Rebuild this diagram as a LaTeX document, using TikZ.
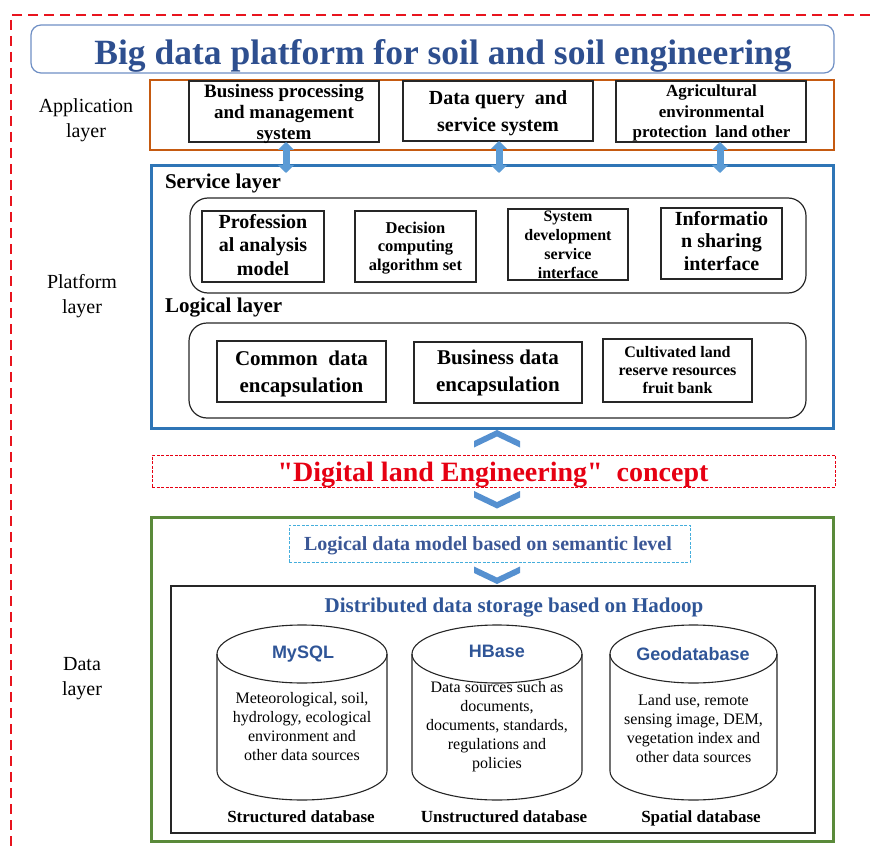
\documentclass[tikz,border=0pt]{standalone}
\usepackage{fontspec}
\setmainfont{Liberation Serif}[Ligatures=TeXOff]
\newfontfamily\dbsans{Liberation Sans}
\usetikzlibrary{arrows.meta}
\definecolor{titleblue}{HTML}{2E4F8F}
\definecolor{titleframe}{HTML}{6F8FC4}
\definecolor{apporange}{HTML}{C55A11}
\definecolor{platblue}{HTML}{2E75B6}
\definecolor{arrowblue}{HTML}{5B9BD5}
\definecolor{chevblue}{HTML}{5590D0}
\definecolor{outerred}{HTML}{E8141E}
\definecolor{conceptred}{HTML}{E60012}
\definecolor{datagreen}{HTML}{5A8A3A}
\definecolor{semblue}{HTML}{45AEDC}
\definecolor{semtext}{HTML}{3B5796}
\definecolor{hadooptext}{HTML}{2F5597}
\definecolor{boxblack}{HTML}{262626}
\newcommand{\fsz}[2]{\fontsize{#1}{#2}\selectfont}
\begin{document}
\begin{tikzpicture}[x=1pt,y=-1pt,
  every node/.style={inner sep=0pt,outer sep=0pt},
  bx/.style={draw=boxblack,line width=1.3pt},
  rbx/.style={draw=boxblack,line width=1.2pt,rounded corners=18pt},
  dbl/.style={draw=arrowblue,line width=7pt,{Triangle[width=16pt,length=8pt]}-{Triangle[width=16pt,length=8pt]}},
  chev/.style={fill=chevblue},
  sidelbl/.style={font=\fsz{20}{24.5},align=center},
  cyl/.style={draw=boxblack,line width=1.1pt},
  bodytxt/.style={font=\fsz{16}{19},align=center},
  dbname/.style={font=\dbsans\bfseries\fsz{18}{20},text=hadooptext,anchor=base},
  dbcap/.style={font=\bfseries\fsz{17}{20},anchor=base},
]
\useasboundingbox (0,0) rectangle (870,848);
% outer dashed frame
\coordinate (oc) at (11,15);
\draw[outerred,line width=2pt,dash pattern=on 10pt off 6pt] (870,15) -- (oc) -- (11,848);
% title
\node[draw=titleframe,line width=1.2pt,rounded corners=10pt,minimum width=803pt,minimum height=48pt] (titlebox) at (432.5,49) {};
\node[anchor=base,font=\bfseries\fsz{35.5}{40},text=titleblue] (title) at (443,65) {Big data platform for soil and soil engineering};
% side labels
\node[sidelbl] (lblapp) at (86,120.3) {\strut Application\\layer\strut};
\node[sidelbl] (lblplat) at (82,296.3) {\strut Platform\\layer\strut};
\node[sidelbl] (lbldata) at (82,678.3) {\strut Data\\layer\strut};
% application layer
\node[draw=apporange,line width=2.5pt,minimum width=684pt,minimum height=70pt] (applayer) at (492,115) {};
\node[bx,minimum width=190pt,minimum height=61pt] (app1) at (284,111.5) {};
\node[bx,minimum width=190pt,minimum height=60pt] (app2) at (498,111) {};
\node[bx,minimum width=190pt,minimum height=61pt] (app3) at (711,111.5) {};
\node[font=\bfseries\fsz{19}{21.5},align=center] (app1t) at (284,114.2) {\strut Business processing\\and management\\system\strut};
\node[font=\bfseries\fsz{20}{27},align=center] (app2t) at (498,113.1) {\strut Data query\ \ and\\service system\strut};
\node[font=\bfseries\fsz{17}{20.5},align=center] (app3t) at (711.5,113.4) {\strut Agricultural\\environmental\\protection\ \ land other\strut};
% platform layer
\node[draw=platblue,line width=3pt,minimum width=682pt,minimum height=263pt] (platform) at (492,296.5) {};
\node[anchor=base west,font=\bfseries\fsz{21}{24}] (servlbl) at (165,188) {Service layer};
\node[rbx,minimum width=616pt,minimum height=95pt] (servgroup) at (498,245.5) {};
\node[bx,minimum width=122pt,minimum height=71pt] (s1) at (263,246.5) {};
\node[bx,minimum width=121pt,minimum height=71pt] (s2) at (415.5,246.5) {};
\node[bx,minimum width=120pt,minimum height=71pt] (s3) at (568,244.5) {};
\node[bx,minimum width=121pt,minimum height=71pt] (s4) at (721.5,243.5) {};
\node[font=\bfseries\fsz{20}{23.5},align=center] (s1t) at (263,246.8) {\strut Profession\\al analysis\\model\strut};
\node[font=\bfseries\fsz{16.5}{18.5},align=center] (s2t) at (415.5,247.8) {\strut Decision\\computing\\algorithm set\strut};
\node[font=\bfseries\fsz{16}{18.7},align=center] (s3t) at (568,246.3) {\strut System\\development\\service\\interface\strut};
\node[font=\bfseries\fsz{20}{22.5},align=center] (s4t) at (721.5,243) {\strut Informatio\\n sharing\\interface\strut};
\node[anchor=base west,font=\bfseries\fsz{21}{24}] (logilbl) at (165,312) {Logical layer};
\node[rbx,minimum width=617pt,minimum height=95pt] (logigroup) at (497.5,370.5) {};
\node[bx,minimum width=169pt,minimum height=61pt] (l1) at (301.5,371.5) {};
\node[bx,minimum width=168pt,minimum height=61pt] (l2) at (498,372.5) {};
\node[bx,minimum width=149pt,minimum height=63pt] (l3) at (677.5,370.5) {};
\node[font=\bfseries\fsz{21}{27},align=center] (l1t) at (301.5,373.1) {\strut Common\ \ data\\encapsulation\strut};
\node[font=\bfseries\fsz{21}{27},align=center] (l2t) at (498,372.1) {\strut Business data\\encapsulation\strut};
\node[font=\bfseries\fsz{16}{18},align=center] (l3t) at (677.5,371.4) {\strut Cultivated land\\reserve resources\\fruit bank\strut};
% arrows app -> platform
\coordinate (a1e) at (286,173);
\coordinate (a2e) at (499,173);
\coordinate (a3e) at (720,173);
\draw[dbl] (app1.south -| a1e) -- (a1e);
\draw[dbl] (app2.south -| a2e) -- (a2e);
\draw[dbl] (app3.south -| a3e) -- (a3e);
% chevrons
\coordinate (ch1) at (497,438.5);
\coordinate (ch2) at (497,500);
\coordinate (ch3) at (497,575.5);
\fill[chev,shift={(ch1)}] (-23,2.5) -- (0,-8.5) -- (23,2.5) -- (23,9) -- (0,-2) -- (-23,9) -- cycle;
\fill[chev,shift={(ch2)}] (-23,-9) -- (0,2) -- (23,-9) -- (23,-2.5) -- (0,8.5) -- (-23,-2.5) -- cycle;
\fill[chev,shift={(ch3)}] (-23,-9) -- (0,2) -- (23,-9) -- (23,-2.5) -- (0,8.5) -- (-23,-2.5) -- cycle;
% concept
\node[draw=conceptred,line width=1pt,dash pattern=on 3pt off 1.5pt,minimum width=683pt,minimum height=32pt] (concept) at (493.5,471) {};
\node[anchor=base,font=\bfseries\fsz{28}{32},text=conceptred] (concepttxt) at (493,481) {"Digital land Engineering"\ \ concept};
% data layer
\node[draw=datagreen,line width=3pt,minimum width=682pt,minimum height=324pt] (datalayer) at (492,679) {};
\node[draw=semblue,line width=1pt,dash pattern=on 3pt off 1.5pt,minimum width=401pt,minimum height=37pt] (sembox) at (489.5,543.5) {};
\node[anchor=base,font=\bfseries\fsz{20}{24},text=semtext] (semtxt) at (488,550) {Logical data model based on semantic level};
\node[draw=boxblack,line width=1.5pt,minimum width=644pt,minimum height=247pt] (hadoop) at (493,709.5) {};
\node[anchor=base,font=\bfseries\fsz{21}{24},text=hadooptext] (hadooptxt) at (514,612) {Distributed data storage based on Hadoop};
% cylinders
\foreach \cx/\rx in {302/85, 497/85, 693.5/83.5}{
  \draw[cyl] ({\cx-\rx},654) -- ({\cx-\rx},771)
    .. controls ({\cx-\rx},787) and ({\cx-0.5523*\rx},800) .. (\cx,800)
    .. controls ({\cx+0.5523*\rx},800) and ({\cx+\rx},787) .. ({\cx+\rx},771)
    -- ({\cx+\rx},654);
  \draw[cyl] (\cx,654) ellipse [x radius=\rx, y radius=29];
}
\node[dbname] (mysql) at (303,658) {MySQL};
\node[bodytxt] (mysqlt) at (302,727.7) {\strut Meteorological, soil,\\hydrology, ecological\\environment and\\other data sources\strut};
\node[dbname] (hbase) at (497,657) {HBase};
\node[font=\fsz{16}{18.8},align=center] (hbaset) at (497,726.8) {\strut Data sources such as\\documents,\\documents, standards,\\regulations and\\policies\strut};
\node[dbname] (geo) at (693,660) {Geodatabase};
\node[bodytxt] (geot) at (693.5,729.7) {\strut Land use, remote\\sensing image, DEM,\\vegetation index and\\other data sources\strut};
\node[dbcap] (cap1) at (301,822) {Structured database};
\node[dbcap] (cap2) at (504,822) {Unstructured database};
\node[dbcap] (cap3) at (701,822) {Spatial database};
\end{tikzpicture}
\end{document}
